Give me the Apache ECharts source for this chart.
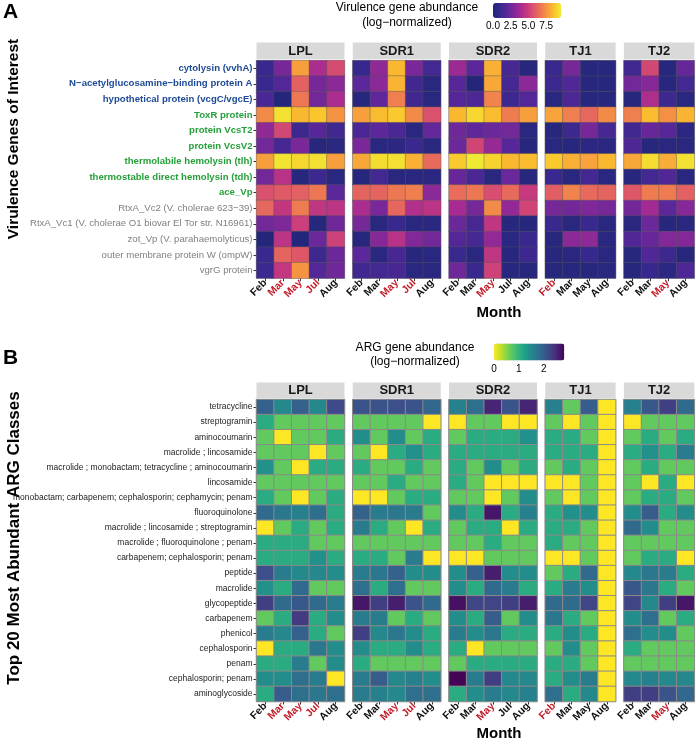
<!DOCTYPE html>
<html>
<head>
<meta charset="utf-8">
<script src="https://cdn.jsdelivr.net/npm/echarts@6/dist/echarts.min.js"></script>
<style>
html, body { margin: 0; padding: 0; background: #fff; }
#chart { width: 696px; height: 744px; }
</style>
</head>
<body>
<div id="chart"></div>
<script>
var sites = ['LPL', 'SDR1', 'SDR2', 'TJ1', 'TJ2']
var siteMonths = [
  ['Feb', 'Mar', 'May', 'Jul', 'Aug'],
  ['Feb', 'Mar', 'May', 'Jul', 'Aug'],
  ['Feb', 'Mar', 'May', 'Jul', 'Aug'],
  ['Feb', 'Mar', 'May', 'Aug'],
  ['Feb', 'Mar', 'May', 'Aug']
]
// months printed in red under each site
var flaggedMonths = [['Mar', 'May', 'Jul'], ['May', 'Jul'], ['May'], ['Feb'], ['May']]

// ---- panel A : virulence genes ----
var virGenes = [
  'cytolysin (vvhA)',
  'N\u2212acetylglucosamine\u2212binding protein A',
  'hypothetical protein (vcgC/vgcE)',
  'ToxR protein',
  'protein VcsT2',
  'protein VcsV2',
  'thermolabile hemolysin (tlh)',
  'thermostable direct hemolysin (tdh)',
  'ace_Vp',
  'RtxA_Vc2 (V. cholerae 623\u221239)',
  'RtxA_Vc1 (V. cholerae O1 biovar El Tor str. N16961)',
  'zot_Vp (V. parahaemolyticus)',
  'outer membrane protein W (ompW)',
  'vgrG protein'
]
var virGeneGroup = ['vv', 'vv', 'vv', 'vp', 'vp', 'vp', 'vp', 'vp', 'vp', 'ot', 'ot', 'ot', 'ot', 'ot']
var virRange = [0, 9.6]
var virTicks = [0, 2.5, 5, 7.5]

var virLPL = [
  [1.0, 2.7, 7.8, 4.0, 5.4],
  [1.0, 1.8, 6.1, 2.7, 3.2],
  [1.5, 0.2, 6.8, 2.6, 4.0],
  [7.3, 9.3, 8.4, 8.7, 7.5],
  [3.3, 5.3, 1.1, 1.9, 1.2],
  [2.6, 1.4, 2.8, 0.3, 0.4],
  [7.8, 9.4, 9.1, 9.3, 7.8],
  [2.6, 4.4, 0.3, 1.1, 0.4],
  [5.6, 5.9, 6.1, 6.8, 2.0],
  [6.3, 4.7, 6.9, 4.6, 4.5],
  [2.6, 2.9, 5.0, 0.3, 2.5],
  [0.2, 4.5, 0.2, 2.4, 5.1],
  [1.0, 6.2, 5.8, 1.1, 2.4],
  [1.1, 4.7, 7.5, 1.8, 2.5]
]
var virSDR1 = [
  [0.9, 3.3, 8.4, 2.8, 1.3],
  [2.0, 3.2, 8.3, 1.2, 0.4],
  [0.3, 2.1, 7.0, 1.2, 0.4],
  [7.8, 8.5, 8.8, 7.3, 5.6],
  [1.5, 2.0, 1.5, 0.4, 2.2],
  [2.8, 0.4, 0.5, 1.0, 0.4],
  [8.0, 9.2, 9.3, 8.2, 6.4],
  [0.3, 1.3, 0.4, 0.4, 0.4],
  [6.2, 6.2, 6.8, 7.0, 3.2],
  [4.0, 2.8, 6.3, 4.2, 4.5],
  [2.7, 0.4, 1.0, 0.4, 0.4],
  [0.3, 3.1, 4.4, 3.0, 2.6],
  [2.0, 0.4, 1.4, 0.3, 0.4],
  [1.2, 1.3, 1.4, 0.4, 0.4]
]
var virSDR2 = [
  [3.6, 2.0, 8.2, 1.4, 0.3],
  [1.9, 0.2, 8.0, 1.4, 3.2],
  [1.8, 1.6, 7.1, 1.1, 1.8],
  [8.4, 9.1, 8.5, 6.9, 7.8],
  [2.5, 2.1, 2.4, 2.6, 0.4],
  [2.4, 5.2, 3.5, 1.9, 0.3],
  [8.8, 9.5, 9.0, 8.4, 8.5],
  [2.3, 1.5, 0.4, 2.4, 0.3],
  [6.5, 6.8, 5.5, 6.4, 4.8],
  [3.9, 2.7, 7.3, 3.4, 5.2],
  [2.4, 1.4, 4.6, 0.3, 0.3],
  [1.8, 1.4, 3.4, 0.4, 1.0],
  [1.0, 0.4, 4.6, 0.3, 1.1],
  [2.5, 1.0, 5.1, 0.3, 0.3]
]
var virTJ1 = [
  [1.0, 2.7, 0.3, 0.3],
  [1.1, 1.7, 0.3, 0.3],
  [0.4, 1.6, 0.3, 0.3],
  [7.9, 7.0, 6.3, 7.3],
  [0.3, 1.1, 2.7, 1.4],
  [0.4, 0.3, 0.5, 0.4],
  [8.8, 8.2, 7.9, 8.4],
  [1.0, 0.4, 1.3, 0.4],
  [6.0, 7.1, 6.4, 6.2],
  [2.7, 2.6, 2.9, 2.7],
  [1.0, 0.4, 1.0, 0.4],
  [0.3, 3.2, 3.3, 0.4],
  [0.3, 0.4, 0.9, 0.4],
  [0.3, 0.3, 0.3, 0.4]
]
var virTJ2 = [
  [1.2, 5.3, 0.3, 2.2],
  [2.6, 3.1, 0.3, 1.3],
  [0.3, 4.1, 1.1, 0.4],
  [7.0, 8.5, 7.4, 8.3],
  [1.2, 2.3, 1.9, 0.5],
  [1.6, 0.3, 0.4, 0.4],
  [8.0, 9.2, 8.1, 9.3],
  [0.3, 1.3, 1.7, 0.4],
  [5.8, 6.9, 6.9, 6.1],
  [2.6, 3.8, 2.0, 3.1],
  [0.4, 2.4, 0.3, 0.4],
  [1.7, 2.3, 3.0, 3.0],
  [0.3, 1.7, 1.1, 0.3],
  [0.3, 0.9, 0.5, 1.6]
]

// ---- panel B : ARG classes ----
var argClasses = [
  'tetracycline',
  'streptogramin',
  'aminocoumarin',
  'macrolide ; lincosamide',
  'macrolide ; monobactam; tetracycline ; aminocoumarin',
  'lincosamide',
  'monobactam; carbapenem; cephalosporin; cephamycin; penam',
  'fluoroquinolone',
  'macrolide ; lincosamide ; streptogramin',
  'macrolide ; fluoroquinolone ; penam',
  'carbapenem; cephalosporin; penam',
  'peptide',
  'macrolide',
  'glycopeptide',
  'carbapenem',
  'phenicol',
  'cephalosporin',
  'penam',
  'cephalosporin; penam',
  'aminoglycoside'
]
var argRange = [0, 2.83]
var argTicks = [0, 1, 2]

var argLPL = [
  [1.95, 1.5, 1.95, 1.5, 2.2],
  [1.1, 0.69, 0.69, 0.69, 0.69],
  [0.69, 0, 0.69, 0.69, 1.1],
  [0.69, 0.69, 0.69, 0, 0.69],
  [1.4, 0.69, 0, 1.1, 1.1],
  [0.69, 0.69, 0.69, 0.69, 0.69],
  [1.1, 0.69, 0, 0.69, 1.1],
  [1.85, 1.7, 1.6, 1.8, 1.1],
  [0, 0.69, 1.1, 0.69, 1.1],
  [1.1, 1.1, 1.1, 0.69, 0.69],
  [1.1, 1.1, 1.1, 1.4, 1.1],
  [2.15, 1.65, 1.5, 1.5, 1.45],
  [1.4, 1.1, 1.85, 0.69, 0.69],
  [2.3, 1.85, 2.05, 1.85, 1.65],
  [0.69, 1.1, 2.35, 1.1, 1.45],
  [1.65, 1.5, 1.95, 1.1, 0.69],
  [0, 1.1, 1.1, 1.7, 1.45],
  [1.1, 1.1, 1.65, 0.69, 1.45],
  [1.45, 1.45, 1.8, 1.65, 0],
  [1.1, 2.0, 1.8, 1.7, 1.8]
]
var argSDR1 = [
  [2.1, 2.1, 2.15, 2.1, 1.9],
  [0.69, 0.69, 0.69, 0.69, 0],
  [1.45, 0.69, 1.45, 0.69, 1.1],
  [0.69, 0, 1.1, 1.4, 1.1],
  [1.1, 0.69, 0.69, 1.1, 0.69],
  [0.69, 0.69, 1.1, 0.69, 0.69],
  [0, 0, 0.69, 1.1, 1.1],
  [1.95, 1.65, 1.7, 1.65, 0.69],
  [1.65, 1.1, 0.69, 0, 1.1],
  [0.69, 0.69, 0.69, 0.69, 0.69],
  [1.1, 1.1, 0.69, 1.65, 0],
  [1.65, 1.7, 1.95, 1.45, 1.45],
  [1.8, 1.1, 1.8, 0.69, 0.69],
  [2.65, 2.3, 2.6, 2.1, 1.85],
  [1.65, 1.65, 0.69, 1.1, 0.69],
  [2.3, 1.5, 1.7, 1.45, 1.1],
  [1.45, 1.1, 1.1, 1.45, 1.1],
  [1.1, 0.69, 0.69, 0.69, 0.69],
  [1.65, 2.0, 1.5, 1.6, 1.45],
  [1.65, 1.6, 1.5, 1.8, 1.8]
]
var argSDR2 = [
  [1.6, 1.8, 2.55, 2.1, 2.55],
  [0, 0.69, 0.69, 0, 0],
  [0.69, 1.1, 1.1, 1.1, 1.4],
  [1.1, 1.1, 1.1, 1.1, 1.1],
  [1.1, 0.69, 1.45, 0.69, 1.1],
  [1.1, 0.69, 0, 0, 0],
  [0.69, 0.69, 0, 0.69, 1.45],
  [1.45, 1.1, 2.65, 1.1, 1.6],
  [0.69, 1.1, 1.1, 0, 1.1],
  [0.69, 0.69, 1.1, 0.69, 0.69],
  [0, 0, 0.69, 0.69, 0.69],
  [1.45, 1.95, 2.6, 1.45, 1.45],
  [1.45, 1.1, 1.85, 1.65, 1.1],
  [2.7, 2.25, 2.25, 2.3, 2.6],
  [1.45, 1.1, 2.0, 0.69, 1.45],
  [1.65, 1.45, 1.7, 1.1, 1.1],
  [1.1, 0, 0.69, 0.69, 0.69],
  [0.69, 1.1, 1.1, 1.1, 1.1],
  [2.8, 1.65, 2.3, 1.5, 1.5],
  [1.1, 1.45, 1.65, 1.5, 1.6]
]
var argTJ1 = [
  [1.6, 0.69, 2.0, 0],
  [0.69, 0, 0.69, 0],
  [1.1, 1.1, 0.69, 0],
  [1.1, 1.1, 1.1, 0],
  [0.69, 1.1, 0.69, 0],
  [0, 0, 0.69, 0],
  [0.69, 0, 0.69, 0],
  [1.1, 1.4, 1.45, 0],
  [1.1, 1.1, 0.69, 0],
  [1.1, 0.69, 0.69, 0],
  [0, 0, 0.69, 0],
  [0.69, 1.1, 1.85, 0],
  [1.1, 1.65, 1.45, 0],
  [1.85, 1.85, 2.25, 0],
  [1.7, 1.1, 0.69, 0],
  [1.1, 1.45, 1.1, 0],
  [0.69, 1.45, 0.69, 0],
  [1.1, 1.1, 0.69, 0],
  [1.1, 1.45, 1.65, 0],
  [1.8, 1.1, 1.5, 0]
]
var argTJ2 = [
  [1.6, 2.05, 2.3, 1.85],
  [0, 0.69, 0.69, 0.69],
  [0.69, 1.1, 0.69, 1.1],
  [1.1, 1.4, 1.1, 1.65],
  [0.69, 1.1, 0.69, 0.69],
  [0.69, 0, 1.1, 0],
  [0.69, 1.1, 1.1, 0.69],
  [1.45, 2.0, 1.1, 1.45],
  [1.85, 1.45, 0.69, 0.69],
  [0.69, 0.69, 0.69, 0.69],
  [0.69, 1.1, 1.1, 0],
  [1.5, 1.7, 1.65, 1.1],
  [2.05, 1.7, 1.1, 0.69],
  [2.25, 1.5, 2.3, 2.65],
  [1.45, 1.8, 0.69, 1.1],
  [1.8, 1.45, 1.45, 0.69],
  [1.1, 0.69, 0.69, 0.69],
  [0.69, 0.69, 0.69, 0.69],
  [1.5, 1.6, 1.5, 1.5],
  [2.3, 2.3, 2.1, 1.9]
]

// plasma-like ramp, a bit bluer at the low end as in the figure
var plasmaRamp = ['#1F2677', '#38288D', '#58279A', '#7D2899', '#A52A93', '#C6397F', '#DD566A', '#ED7455', '#F79A3F', '#FBC22C', '#EFEE34']
var viridisRev = ['#FDE725', '#B4DE2C', '#6DCD59', '#35B779', '#1F9E89', '#26828E', '#31688E', '#3E4A89', '#482878', '#440154']

var FONT = 'Liberation Sans, Arial, sans-serif'
var plotLeft = 256.5
var colW = 17.6
var facetGap = 8.25

var panels = [
  {
    rows: virGenes,
    values: [virLPL, virSDR1, virSDR2, virTJ1, virTJ2],
    top: 60.5, rowH: 15.55, stripTop: 42.5,
    cellBorder: '#555', cellBorderW: 0.4,
    labelFormatter: function (v, i) { return '{' + virGeneGroup[i] + '|' + v + '}' },
    rich: {
      vv: { color: '#1F4A97', fontWeight: 'bold', fontSize: 9.6, fontFamily: FONT },
      vp: { color: '#26A03A', fontWeight: 'bold', fontSize: 9.6, fontFamily: FONT },
      ot: { color: '#808080', fontWeight: 'normal', fontSize: 9.6, fontFamily: FONT }
    }
  },
  {
    rows: argClasses,
    values: [argLPL, argSDR1, argSDR2, argTJ1, argTJ2],
    top: 399.5, rowH: 15.1, stripTop: 382.5,
    cellBorder: '#8a8a8a', cellBorderW: 1,
    labelFormatter: function (v) { return '{n|' + v + '}' },
    rich: {
      n: { color: '#222', fontSize: 8.5, fontFamily: FONT }
    }
  }
]

var monthRich = {
  red: { color: '#C41E2A', fontWeight: 'bold', fontSize: 10.5, fontFamily: FONT },
  blk: { color: '#111', fontWeight: 'bold', fontSize: 10.5, fontFamily: FONT }
}

var grid = []
var xAxis = []
var yAxis = []
var series = []
var graphic = []

var lefts = []
var xx = plotLeft
siteMonths.forEach(function (m) {
  lefts.push(xx)
  xx += m.length * colW + facetGap
})

panels.forEach(function (p) {
  sites.forEach(function (site, i) {
    var gi = grid.length
    var w = siteMonths[i].length * colW
    var h = p.rows.length * p.rowH
    grid.push({
      left: lefts[i], top: p.top, width: w, height: h,
      show: true, borderColor: '#c4c4c4', borderWidth: 1, backgroundColor: 'transparent',
      containLabel: false, outerBoundsMode: 'none'
    })
    xAxis.push({
      type: 'category', gridIndex: gi, data: siteMonths[i],
      axisLine: { show: false },
      axisTick: { show: true, alignWithLabel: true, length: 3, lineStyle: { color: '#333' } },
      axisLabel: {
        rotate: 45, margin: 3, interval: 0,
        formatter: function (v) {
          return '{' + (flaggedMonths[i].indexOf(v) >= 0 ? 'red' : 'blk') + '|' + v + '}'
        },
        rich: monthRich
      },
      splitLine: { show: false }
    })
    yAxis.push({
      type: 'category', gridIndex: gi, data: p.rows, inverse: true,
      axisLine: { show: false },
      axisTick: { show: i === 0, alignWithLabel: true, length: 3, lineStyle: { color: '#333' } },
      axisLabel: { show: i === 0, margin: 4, interval: 0, formatter: p.labelFormatter, rich: p.rich },
      splitLine: { show: false }
    })
    var data = []
    p.values[i].forEach(function (row, r) {
      row.forEach(function (v, c) { data.push([c, r, v]) })
    })
    series.push({
      type: 'heatmap', xAxisIndex: gi, yAxisIndex: gi, data: data,
      itemStyle: { borderColor: p.cellBorder, borderWidth: p.cellBorderW },
      emphasis: { disabled: true }
    })
    // facet strip
    graphic.push({
      type: 'rect', shape: { x: lefts[i], y: p.stripTop, width: w, height: p.top - p.stripTop - 1.5 },
      style: { fill: '#D9D9D9' }, silent: true
    })
    graphic.push({
      type: 'text', x: lefts[i] + w / 2, y: p.stripTop + (p.top - p.stripTop - 1.5) / 2 + 0.5,
      style: { text: site, textAlign: 'center', textVerticalAlign: 'middle', fontSize: 13, fontWeight: 'bold', fontFamily: FONT, fill: '#1a1a1a' },
      silent: true
    })
  })
})

function addText (txt, x, y, size, weight, extra) {
  var el = {
    type: 'text', x: x, y: y, silent: true,
    style: { text: txt, textAlign: 'center', textVerticalAlign: 'middle', fontSize: size, fontWeight: weight, fontFamily: FONT, fill: '#000' }
  }
  if (extra) Object.keys(extra).forEach(function (k) { el[k] = extra[k] })
  graphic.push(el)
}

// panel letters, axis titles
addText('A', 10.5, 12.5, 21, 'bold')
addText('B', 10.5, 358, 21, 'bold')
addText('Virulence Genes of Interest', 14, 139, 15.5, 'bold', { rotation: Math.PI / 2 })
addText('Top 20 Most Abundant ARG Classes', 14, 538, 17, 'bold', { rotation: Math.PI / 2 })
addText('Month', 499, 313, 15, 'bold')
addText('Month', 499, 734, 15, 'bold')

// legend titles
addText('Virulence gene abundance', 407, 8, 12, 'normal')
addText('(log\u2212normalized)', 407, 22.5, 12, 'normal')
addText('ARG gene abundance', 415, 347.5, 12, 'normal')
addText('(log\u2212normalized)', 415, 362, 12, 'normal')

var barA = { left: 493, top: 3, len: 68, thick: 15 }
var barB = { left: 494, top: 343.5, len: 70.3, thick: 17 }
virTicks.forEach(function (t) {
  addText(t.toFixed(1), barA.left + (t - virRange[0]) / (virRange[1] - virRange[0]) * barA.len, 26, 10, 'normal', {})
})
argTicks.forEach(function (t) {
  addText(String(t), barB.left + (t - argRange[0]) / (argRange[1] - argRange[0]) * barB.len, 369.5, 10, 'normal', {})
})

var chart = echarts.init(document.getElementById('chart'))
chart.setOption({
  animation: false,
  backgroundColor: '#fff',
  grid: grid,
  xAxis: xAxis,
  yAxis: yAxis,
  visualMap: [
    {
      type: 'continuous', seriesIndex: [0, 1, 2, 3, 4], min: virRange[0], max: virRange[1],
      orient: 'horizontal', left: barA.left, top: barA.top, itemWidth: barA.thick, itemHeight: barA.len,
      calculable: false, padding: 0, inRange: { color: plasmaRamp }
    },
    {
      type: 'continuous', seriesIndex: [5, 6, 7, 8, 9], min: argRange[0], max: argRange[1],
      orient: 'horizontal', left: barB.left, top: barB.top, itemWidth: barB.thick, itemHeight: barB.len,
      calculable: false, padding: 0, inRange: { color: viridisRev }
    }
  ],
  series: series,
  graphic: graphic
})
</script>
</body>
</html>
